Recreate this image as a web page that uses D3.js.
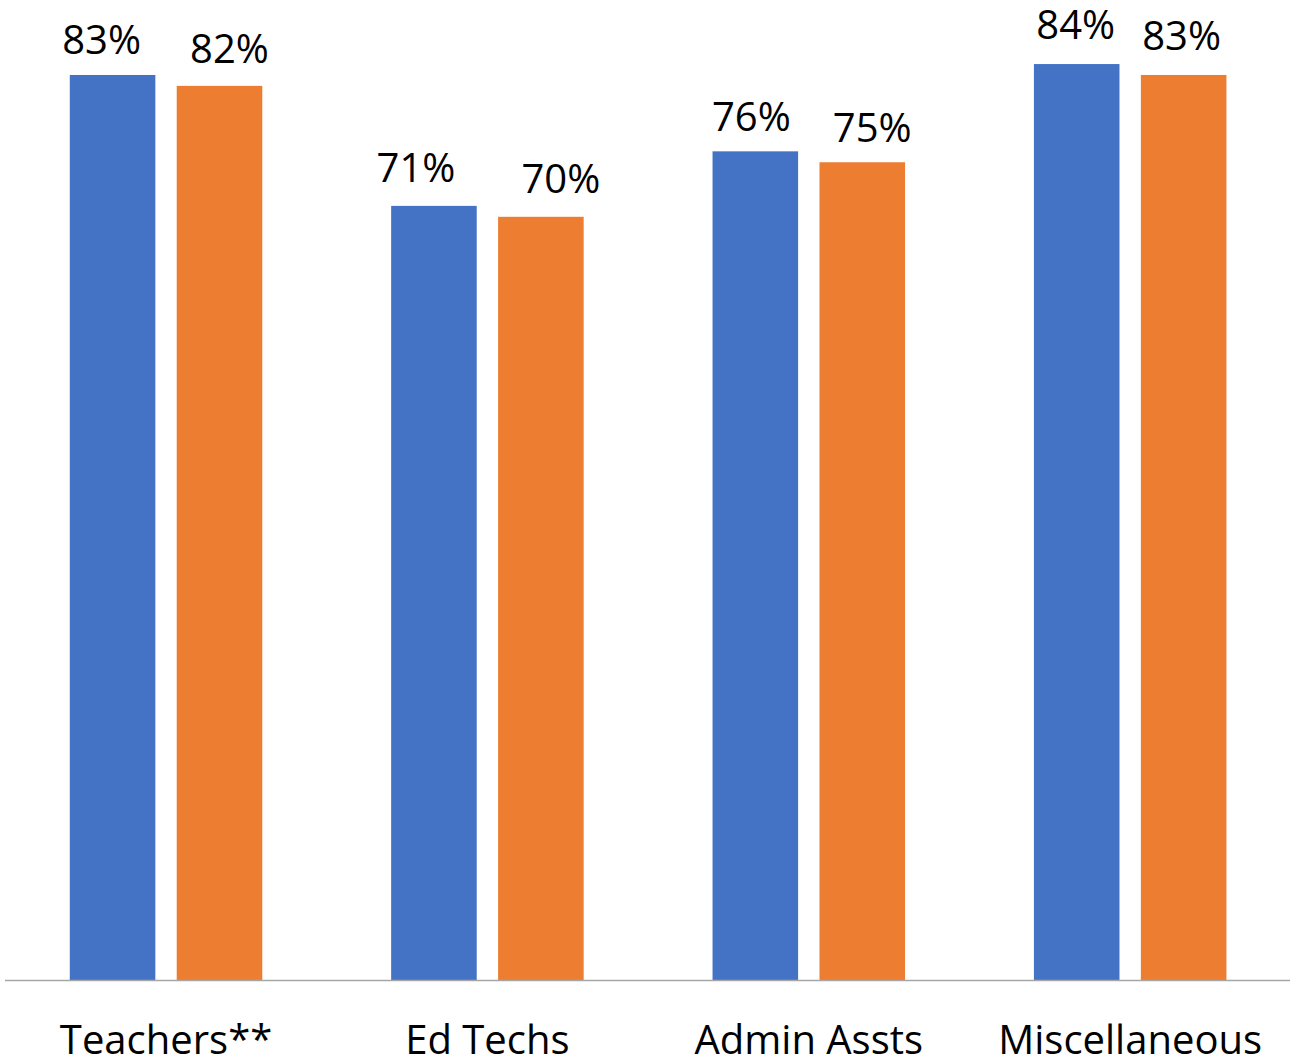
<!DOCTYPE html>
<html>
<head>
<meta charset="utf-8">
<script src="https://cdn.jsdelivr.net/npm/d3@7"></script>
<style>
  html, body { margin: 0; padding: 0; background: #fff; }
  svg { display: block; }
  text { font-family: "Open Sans", "Noto Sans", sans-serif; fill: #000; }
</style>
</head>
<body>
<svg id="chart" width="1296" height="1059"></svg>
<script>
// Staff groups and the two survey series (shares, 0–1)
const categories = ["Teachers**", "Ed Techs", "Admin Assts", "Miscellaneous"];
const seriesKeys = ["first", "second"];
const firstValues = [0.83, 0.71, 0.76, 0.84];
const secondValues = [0.82, 0.70, 0.75, 0.83];
const valueLabels = [["83%", "82%"], ["71%", "70%"], ["76%", "75%"], ["84%", "83%"]];

// Hand-placed nudges of the value labels, [dx, dy] in px
const labelNudge = [
  [[-11, 2], [10, 0]],
  [[-18, -1], [20, -1]],
  [[-4, 3], [10, 3]],
  [[-1, -2], [-2, -2]]
];

const colors = { first: "#4472C4", second: "#ED7D31" };

const rows = categories.map((c, i) => ({
  category: c,
  values: [
    { key: "first", value: firstValues[i], label: valueLabels[i][0], nudge: labelNudge[i][0] },
    { key: "second", value: secondValues[i], label: valueLabels[i][1], nudge: labelNudge[i][1] }
  ]
}));

const svg = d3.select("#chart");
const baseY = 980.5;

const x0 = d3.scaleBand()
  .domain(categories)
  .range([5.5, 1290.7])
  .paddingInner(0.401)
  .paddingOuter(0.2);

const x1 = d3.scaleBand()
  .domain(seriesKeys)
  .range([0, x0.bandwidth()])
  .paddingInner(0.2)
  .paddingOuter(0);

const y = d3.scaleLinear()
  .domain([0, 0.9])
  .range([baseY, -1.4]);

const groups = svg.append("g")
  .selectAll("g")
  .data(rows)
  .join("g")
  .attr("transform", d => `translate(${x0(d.category)},0)`);

groups.selectAll("rect")
  .data(d => d.values)
  .join("rect")
  .attr("x", d => x1(d.key))
  .attr("width", x1.bandwidth())
  .attr("y", d => y(d.value))
  .attr("height", d => y(0) - y(d.value))
  .attr("fill", d => colors[d.key]);

groups.selectAll("text.value")
  .data(d => d.values)
  .join("text")
  .attr("class", "value")
  .attr("x", d => x1(d.key) + x1.bandwidth() / 2 + d.nudge[0])
  .attr("y", d => y(d.value) - 23 + d.nudge[1])
  .attr("text-anchor", "middle")
  .attr("font-size", 40)
  .text(d => d.label);

// Category axis: baseline rule and group names
const xAxis = d3.axisBottom(x0).tickSize(0).tickPadding(0);
const axisG = svg.append("g")
  .attr("transform", `translate(0,${baseY})`)
  .call(xAxis);

axisG.select(".domain")
  .attr("d", "M5,0H1290")
  .attr("stroke", "#a6a6a6")
  .attr("stroke-width", 1.5);

axisG.selectAll(".tick text")
  .attr("font-size", 40)
  .attr("fill", "#000")
  .attr("dy", null)
  .attr("y", 73.5)
  .style("font-family", "'Open Sans', 'Noto Sans', sans-serif");
</script>
</body>
</html>
